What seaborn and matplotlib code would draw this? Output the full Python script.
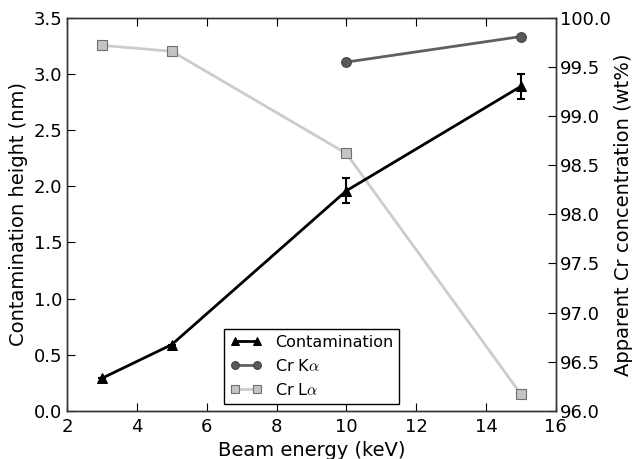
import numpy as np
import pandas as pd
import matplotlib
matplotlib.use("Agg")
import matplotlib.pyplot as plt
import seaborn as sns

# Data
energy_cont = [3, 5, 10, 15]
contamination = [0.29, 0.59, 1.96, 2.89]
contamination_err = [0.0, 0.0, 0.11, 0.11]

energy_k = [10, 15]
cr_ka = [99.55, 99.81]

energy_l = [3, 5, 10, 15]
cr_la = [99.72, 99.66, 98.62, 96.17]

sns.set_style("white")
plt.rcParams['font.family'] = ['DejaVu Sans']
plt.rcParams['mathtext.fontset'] = 'cm'
plt.rcParams['text.color'] = 'black'
plt.rcParams['axes.labelcolor'] = 'black'
plt.rcParams['xtick.color'] = 'black'
plt.rcParams['ytick.color'] = 'black'

fig = plt.figure(figsize=(6.33, 4.59), dpi=100)
ax = fig.add_axes([0.106, 0.105, 0.772, 0.856])
ax2 = ax.twinx()

df_c = pd.DataFrame({"x": energy_cont, "y": contamination})
df_k = pd.DataFrame({"x": energy_k, "y": cr_ka})
df_l = pd.DataFrame({"x": energy_l, "y": cr_la})

sns.lineplot(data=df_l, x="x", y="y", ax=ax2, color="#cccccc", lw=2,
             marker="s", markersize=7, markerfacecolor="#c4c4c4",
             markeredgecolor="#707070", markeredgewidth=0.8, label="Cr L$\\alpha$", legend=False)
sns.lineplot(data=df_k, x="x", y="y", ax=ax2, color="#606060", lw=2,
             marker="o", markersize=7, markerfacecolor="#5a5a5a",
             markeredgecolor="#444444", markeredgewidth=0.8, label="Cr K$\\alpha$", legend=False)
sns.lineplot(data=df_c, x="x", y="y", ax=ax, color="black", lw=2,
             marker="^", markersize=7, markeredgecolor="black", label="Contamination", legend=False)
ax.errorbar(energy_cont, contamination, yerr=contamination_err, fmt="none",
            ecolor="black", elinewidth=1.5, capsize=3, capthick=1.5)

ax.set_xlim(2, 16)
ax.set_ylim(0, 3.5)
ax2.set_ylim(96.0, 100.0)
ax.set_xticks(np.arange(2, 17, 2))
ax.set_yticks(np.arange(0, 3.51, 0.5))
ax.set_yticklabels([f"{v:.1f}" for v in np.arange(0, 3.51, 0.5)])
ax2.set_yticks(np.arange(96, 100.01, 0.5))
ax2.set_yticklabels([f"{v:.1f}" for v in np.arange(96, 100.01, 0.5)])

ax.set_xlabel("Beam energy (keV)", fontsize=14, labelpad=4)
ax.set_ylabel("Contamination height (nm)", fontsize=14, labelpad=4)
ax2.set_ylabel("Apparent Cr concentration (wt%)", fontsize=14, labelpad=2)

ax.tick_params(axis='x', which='both', top=True, bottom=True, direction='in', length=6, labelsize=13, pad=5)
ax.tick_params(axis='y', left=True, right=False, direction='in', length=6, labelsize=13)
ax2.tick_params(axis='y', right=True, left=False, direction='in', length=6, labelsize=13, pad=3)
for a in (ax, ax2):
    for s in a.spines.values():
        s.set_visible(True)
        s.set_color("#333333")
        s.set_linewidth(1.0)

h1, l1 = ax.get_legend_handles_labels()
h2, l2 = ax2.get_legend_handles_labels()
handles = h1 + h2[::-1]
labels = l1 + l2[::-1]
leg = ax.legend(handles, labels, loc="lower center", fontsize=11.5, frameon=True,
                fancybox=False, edgecolor="black", framealpha=1, borderaxespad=0.4,
                handlelength=2.0, labelspacing=0.5, markerscale=0.8, numpoints=2)
leg.get_frame().set_linewidth(1.0)
ax.set_zorder(ax2.get_zorder() + 1)
ax.patch.set_visible(False)

fig.savefig("out.png", dpi=100)
